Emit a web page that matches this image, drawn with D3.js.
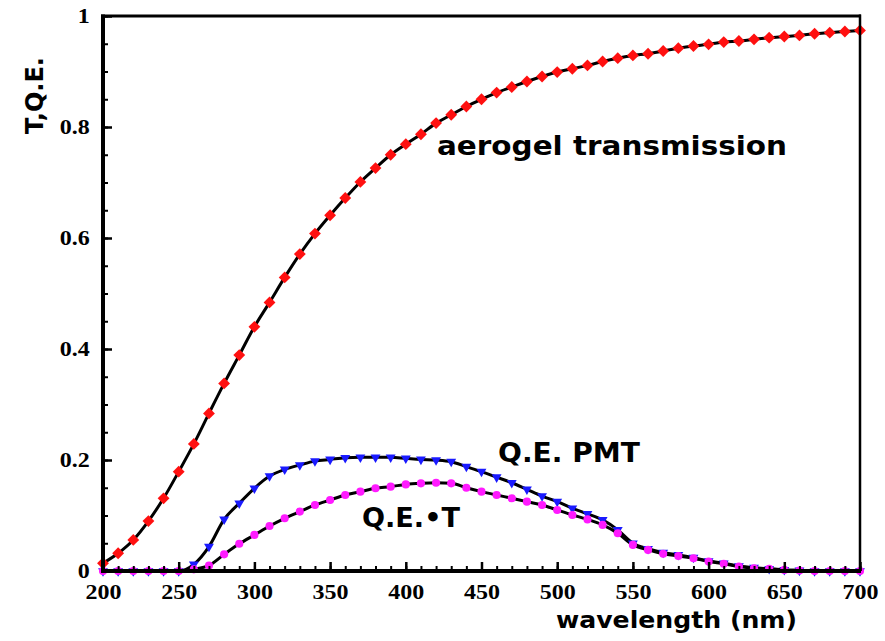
<!DOCTYPE html>
<html>
<head>
<meta charset="utf-8">
<script src="https://cdn.jsdelivr.net/npm/d3@7"></script>
<style>
  body { margin: 0; background: #fff; }
  svg { display: block; }
</style>
</head>
<body>
<div id="chart"></div>
<script>
// Data, 10 nm steps
var wavelengths = d3.range(200, 701, 10);

var aerogelT = [0.014, 0.032, 0.056, 0.090, 0.131, 0.179, 0.229, 0.284, 0.338, 0.389,
  0.440, 0.484, 0.529, 0.571, 0.608, 0.641, 0.672, 0.701, 0.726, 0.750,
  0.769, 0.787, 0.807, 0.822, 0.837, 0.850, 0.862, 0.872, 0.882, 0.891,
  0.899, 0.905, 0.911, 0.918, 0.924, 0.929, 0.932, 0.937, 0.942, 0.946,
  0.949, 0.953, 0.955, 0.958, 0.961, 0.963, 0.965, 0.968, 0.970, 0.972, 0.974];

var qePMT = [0, 0, 0, 0, 0, 0, 0.012, 0.044, 0.093, 0.122,
  0.149, 0.171, 0.183, 0.191, 0.198, 0.201, 0.204, 0.205, 0.205, 0.205,
  0.203, 0.201, 0.200, 0.197, 0.188, 0.179, 0.169, 0.159, 0.147, 0.135,
  0.125, 0.113, 0.103, 0.092, 0.074, 0.050, 0.040, 0.033, 0.029, 0.024,
  0.018, 0.014, 0.009, 0.006, 0.004, 0.002, 0.001, 0, 0, 0, 0];

var qeTimesT = [0, 0, 0, 0, 0, 0, 0.003, 0.010, 0.030, 0.049,
  0.065, 0.081, 0.095, 0.107, 0.119, 0.128, 0.137, 0.143, 0.149, 0.152,
  0.156, 0.158, 0.159, 0.158, 0.150, 0.143, 0.137, 0.131, 0.125, 0.119,
  0.110, 0.101, 0.093, 0.083, 0.068, 0.047, 0.038, 0.031, 0.027, 0.023,
  0.017, 0.013, 0.008, 0.005, 0.004, 0.002, 0.001, 0, 0, 0, 0];

var xMajorTicks = [200, 250, 300, 350, 400, 450, 500, 550, 600, 650, 700];
var yMajorTicks = [0, 0.2, 0.4, 0.6, 0.8, 1];

var width = 885;
var height = 641;
var margin = {left: 103, right: 25, top: 16, bottom: 70};

var svg = d3.select('#chart').append('svg')
    .attr('width', width)
    .attr('height', height);

var x = d3.scaleLinear().domain([200, 700]).range([margin.left, width - margin.right]);
var y = d3.scaleLinear().domain([0, 1]).range([height - margin.bottom, margin.top]);

function series(values) {
  return wavelengths.map(function(w, i) { return {x: w, y: values[i]}; });
}

var line = d3.line()
    .x(function(d) { return x(d.x); })
    .y(function(d) { return y(d.y); })
    .curve(d3.curveMonotoneX);

// curves (black line, coloured markers on top)
[aerogelT, qePMT, qeTimesT].forEach(function(vals) {
  svg.append('path')
      .datum(series(vals))
      .attr('d', line)
      .attr('fill', 'none')
      .attr('stroke', '#000')
      .attr('stroke-width', 3);
});

var sq = d3.symbol().type(d3.symbolSquare).size(70);
var tri = d3.symbol().type(d3.symbolTriangle).size(42);
var circ = d3.symbol().type(d3.symbolCircle).size(52);

svg.append('g').selectAll('path')
    .data(series(qePMT))
    .enter().append('path')
    .attr('d', tri)
    .attr('transform', function(d) { return 'translate(' + x(d.x) + ',' + y(d.y) + ')rotate(180)'; })
    .attr('fill', '#1a1aff');

svg.append('g').selectAll('path')
    .data(series(qeTimesT))
    .enter().append('path')
    .attr('d', circ)
    .attr('transform', function(d) { return 'translate(' + x(d.x) + ',' + y(d.y) + ')'; })
    .attr('fill', '#ff1aff');

svg.append('g').selectAll('path')
    .data(series(aerogelT))
    .enter().append('path')
    .attr('d', sq)
    .attr('transform', function(d) { return 'translate(' + x(d.x) + ',' + y(d.y) + ')rotate(45)'; })
    .attr('fill', '#ff1010');

// axes: minor ticks first, then majors with labels
var xMinor = d3.axisBottom(x).tickValues(d3.range(200, 701, 10)).tickSize(-5).tickFormat('');
var xMajor = d3.axisBottom(x).tickValues(xMajorTicks).tickSize(-9).tickPadding(14).tickFormat(d3.format('d'));
var yMinor = d3.axisLeft(y).tickValues(d3.range(0, 1.001, 0.05)).tickSize(-5).tickFormat('');
var yMajor = d3.axisLeft(y).tickValues(yMajorTicks).tickSize(-9).tickPadding(11).tickFormat(function(d) { return d === 0 || d === 1 ? d : d3.format('.1f')(d); });

function styleAxis(g, w) {
  g.select('.domain').remove();
  g.selectAll('line').attr('stroke', '#000').attr('stroke-width', w);
  g.selectAll('text')
      .attr('fill', '#000')
      .style('font-family', '"Liberation Serif", "Times New Roman", serif')
      .style('font-weight', 'bold')
      .style('font-size', '20px');
}

var bottomY = height - margin.bottom;
svg.append('g').attr('transform', 'translate(0,' + bottomY + ')').call(xMinor).call(styleAxis, 2);
svg.append('g').attr('transform', 'translate(0,' + bottomY + ')').call(xMajor).call(styleAxis, 2.5)
    .selectAll('text').attr('transform', 'scale(1.2,1)');
svg.append('g').attr('transform', 'translate(' + margin.left + ',0)').call(yMinor).call(styleAxis, 2);
svg.append('g').attr('transform', 'translate(' + margin.left + ',0)').call(yMajor).call(styleAxis, 2.5)
    .selectAll('text').attr('transform', 'scale(1.2,1)');

// frame
var x0 = x(200), x1 = x(700), y0 = y(0), y1 = y(1);
svg.append('line').attr('x1', x0).attr('x2', x0).attr('y1', y1 - 1.5).attr('y2', y0 + 2).attr('stroke', '#000').attr('stroke-width', 4);
svg.append('line').attr('x1', x0 - 2).attr('x2', x1 + 1).attr('y1', y0).attr('y2', y0).attr('stroke', '#000').attr('stroke-width', 4);
svg.append('line').attr('x1', x0 - 2).attr('x2', x1 + 1).attr('y1', y1).attr('y2', y1).attr('stroke', '#000').attr('stroke-width', 3);
svg.append('line').attr('x1', x1).attr('x2', x1).attr('y1', y1 - 1.5).attr('y2', y0).attr('stroke', '#000').attr('stroke-width', 2.5);

// axis titles
var sans = '"DejaVu Sans", Verdana, sans-serif';
svg.append('text')
    .attr('transform', 'translate(43,57)rotate(-90)')
    .attr('text-anchor', 'end')
    .style('font-family', sans).style('font-weight', 'bold').style('font-size', '24px')
    .text('T,Q.E.');

svg.append('text')
    .attr('x', 797).attr('y', 628)
    .attr('text-anchor', 'end')
    .attr('textLength', 241).attr('lengthAdjust', 'spacingAndGlyphs')
    .style('font-family', sans).style('font-weight', 'bold').style('font-size', '23px')
    .text('wavelength (nm)');

// curve labels
svg.append('text')
    .attr('x', 437).attr('y', 155)
    .attr('textLength', 350).attr('lengthAdjust', 'spacingAndGlyphs')
    .style('font-family', sans).style('font-weight', 'bold').style('font-size', '27px')
    .text('aerogel transmission');

svg.append('text')
    .attr('x', 498).attr('y', 462)
    .attr('textLength', 142).attr('lengthAdjust', 'spacingAndGlyphs')
    .style('font-family', sans).style('font-weight', 'bold').style('font-size', '27px')
    .text('Q.E. PMT');

svg.append('text')
    .attr('x', 362).attr('y', 527)
    .attr('textLength', 98).attr('lengthAdjust', 'spacingAndGlyphs')
    .style('font-family', sans).style('font-weight', 'bold').style('font-size', '27px')
    .text('Q.E.\u2022T');
</script>
</body>
</html>
